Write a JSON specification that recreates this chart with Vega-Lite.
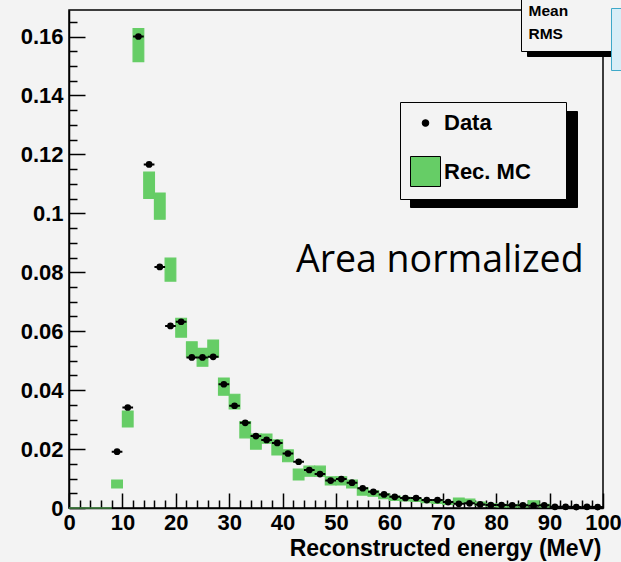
{
  "$schema": "https://vega.github.io/schema/vega-lite/v6.json",
  "width": 534,
  "height": 498,
  "autosize": {"type": "none"},
  "padding": {"left": 69, "top": 10, "right": 18, "bottom": 54},
  "background": "#f3f3f3",
  "config": {
    "view": {"stroke": "black", "strokeWidth": 1.5, "fill": "#f3f3f3"},
    "font": "Liberation Sans",
    "axis": {
      "grid": false, "domainColor": "black", "tickColor": "black", "labelColor": "black", "titleColor": "black",
      "labelFont": "Liberation Sans", "labelFontWeight": "bold", "labelFontSize": 22,
      "titleFont": "Liberation Sans", "titleFontWeight": "bold", "titleFontSize": 23,
      "tickWidth": 1.5, "domainWidth": 1.5, "labelFlush": false, "labelOverlap": false, "labelBound": false, "zindex": 1
    }
  },
  "data": {"values": [
    {"e": 1, "lo": 0, "hi": 2, "data": null, "mc_lo": 0, "mc_hi": 0},
    {"e": 3, "lo": 2, "hi": 4, "data": null, "mc_lo": 0, "mc_hi": 0},
    {"e": 5, "lo": 4, "hi": 6, "data": null, "mc_lo": 0, "mc_hi": 0},
    {"e": 7, "lo": 6, "hi": 8, "data": null, "mc_lo": 0, "mc_hi": 0},
    {"e": 9, "lo": 8, "hi": 10, "data": 0.0191, "mc_lo": 0.0068, "mc_hi": 0.0095},
    {"e": 11, "lo": 10, "hi": 12, "data": 0.0341, "mc_lo": 0.0275, "mc_hi": 0.0329},
    {"e": 13, "lo": 12, "hi": 14, "data": 0.1600, "mc_lo": 0.1515, "mc_hi": 0.1627},
    {"e": 15, "lo": 14, "hi": 16, "data": 0.1166, "mc_lo": 0.1051, "mc_hi": 0.1140},
    {"e": 17, "lo": 16, "hi": 18, "data": 0.0818, "mc_lo": 0.0980, "mc_hi": 0.1069},
    {"e": 19, "lo": 18, "hi": 20, "data": 0.0618, "mc_lo": 0.0770, "mc_hi": 0.0848},
    {"e": 21, "lo": 20, "hi": 22, "data": 0.0632, "mc_lo": 0.0580, "mc_hi": 0.0644},
    {"e": 23, "lo": 22, "hi": 24, "data": 0.0511, "mc_lo": 0.0513, "mc_hi": 0.0564},
    {"e": 25, "lo": 24, "hi": 26, "data": 0.0511, "mc_lo": 0.0481, "mc_hi": 0.0542},
    {"e": 27, "lo": 26, "hi": 28, "data": 0.0513, "mc_lo": 0.0512, "mc_hi": 0.0570},
    {"e": 29, "lo": 28, "hi": 30, "data": 0.0420, "mc_lo": 0.0383, "mc_hi": 0.0441},
    {"e": 31, "lo": 30, "hi": 32, "data": 0.0347, "mc_lo": 0.0336, "mc_hi": 0.0386},
    {"e": 33, "lo": 32, "hi": 34, "data": 0.0289, "mc_lo": 0.0238, "mc_hi": 0.0293},
    {"e": 35, "lo": 34, "hi": 36, "data": 0.0244, "mc_lo": 0.0200, "mc_hi": 0.0251},
    {"e": 37, "lo": 36, "hi": 38, "data": 0.0231, "mc_lo": 0.0220, "mc_hi": 0.0251},
    {"e": 39, "lo": 38, "hi": 40, "data": 0.0221, "mc_lo": 0.0180, "mc_hi": 0.0231},
    {"e": 41, "lo": 40, "hi": 42, "data": 0.0185, "mc_lo": 0.0157, "mc_hi": 0.0197},
    {"e": 43, "lo": 42, "hi": 44, "data": 0.0157, "mc_lo": 0.0095, "mc_hi": 0.0132},
    {"e": 45, "lo": 44, "hi": 46, "data": 0.0129, "mc_lo": 0.0108, "mc_hi": 0.0142},
    {"e": 47, "lo": 46, "hi": 48, "data": 0.0115, "mc_lo": 0.0108, "mc_hi": 0.0142},
    {"e": 49, "lo": 48, "hi": 50, "data": 0.0093, "mc_lo": 0.0078, "mc_hi": 0.0106},
    {"e": 51, "lo": 50, "hi": 52, "data": 0.0098, "mc_lo": 0.0078, "mc_hi": 0.0106},
    {"e": 53, "lo": 52, "hi": 54, "data": 0.0086, "mc_lo": 0.0068, "mc_hi": 0.0095},
    {"e": 55, "lo": 54, "hi": 56, "data": 0.0067, "mc_lo": 0.0044, "mc_hi": 0.0068},
    {"e": 57, "lo": 56, "hi": 58, "data": 0.0055, "mc_lo": 0.0040, "mc_hi": 0.0058},
    {"e": 59, "lo": 58, "hi": 60, "data": 0.0046, "mc_lo": 0.0032, "mc_hi": 0.0048},
    {"e": 61, "lo": 60, "hi": 62, "data": 0.0038, "mc_lo": 0.0026, "mc_hi": 0.0040},
    {"e": 63, "lo": 62, "hi": 64, "data": 0.0034, "mc_lo": 0.0024, "mc_hi": 0.0036},
    {"e": 65, "lo": 64, "hi": 66, "data": 0.0034, "mc_lo": 0.0022, "mc_hi": 0.0032},
    {"e": 67, "lo": 66, "hi": 68, "data": 0.0027, "mc_lo": 0.0018, "mc_hi": 0.0028},
    {"e": 69, "lo": 68, "hi": 70, "data": 0.0027, "mc_lo": 0.0016, "mc_hi": 0.0026},
    {"e": 71, "lo": 70, "hi": 72, "data": 0.0020, "mc_lo": 0.0012, "mc_hi": 0.0022},
    {"e": 73, "lo": 72, "hi": 74, "data": 0.0014, "mc_lo": 0.0020, "mc_hi": 0.0034},
    {"e": 75, "lo": 74, "hi": 76, "data": 0.0016, "mc_lo": 0.0018, "mc_hi": 0.0030},
    {"e": 77, "lo": 76, "hi": 78, "data": 0.0012, "mc_lo": 0.0010, "mc_hi": 0.0020},
    {"e": 79, "lo": 78, "hi": 80, "data": 0.0010, "mc_lo": 0.0006, "mc_hi": 0.0014},
    {"e": 81, "lo": 80, "hi": 82, "data": 0.0010, "mc_lo": 0.0004, "mc_hi": 0.0012},
    {"e": 83, "lo": 82, "hi": 84, "data": 0.0009, "mc_lo": 0.0004, "mc_hi": 0.0010},
    {"e": 85, "lo": 84, "hi": 86, "data": 0.0009, "mc_lo": 0.0004, "mc_hi": 0.0012},
    {"e": 87, "lo": 86, "hi": 88, "data": 0.0008, "mc_lo": 0.0012, "mc_hi": 0.0024},
    {"e": 89, "lo": 88, "hi": 90, "data": 0.0009, "mc_lo": 0.0004, "mc_hi": 0.0012},
    {"e": 91, "lo": 90, "hi": 92, "data": 0.0004, "mc_lo": null, "mc_hi": null},
    {"e": 93, "lo": 92, "hi": 94, "data": 0.0004, "mc_lo": null, "mc_hi": null},
    {"e": 95, "lo": 94, "hi": 96, "data": 0.0003, "mc_lo": null, "mc_hi": null},
    {"e": 97, "lo": 96, "hi": 98, "data": 0.0004, "mc_lo": null, "mc_hi": null},
    {"e": 99, "lo": 98, "hi": 100, "data": 0.0003, "mc_lo": null, "mc_hi": null}
  ]},
  "resolve": {"axis": {"x": "independent", "y": "independent"}},
  "layer": [
    {
      "mark": {"type": "rect", "strokeWidth": 1.2},
      "encoding": {
        "x": {"field": "lo", "type": "quantitative", "scale": {"domain": [0, 100], "nice": false, "zero": false},
          "axis": {"orient": "bottom", "values": [0, 10, 20, 30, 40, 50, 60, 70, 80, 90, 100], "ticks": false, "labelPadding": 4, "format": "d",
            "grid": true, "gridColor": "black", "gridWidth": 1.5, "gridOpacity": 1, "gridDash": [0, 483, 15, 3000],
            "title": "Reconstructed energy (MeV)", "titleX": 532, "titleY": 47, "titleAlign": "right", "titleBaseline": "alphabetic", "titleAnchor": null}},
        "x2": {"field": "hi"},
        "y": {"field": "mc_lo", "type": "quantitative", "scale": {"domain": [0, 0.169], "nice": false},
          "axis": {"orient": "left", "values": [0, 0.02, 0.04, 0.06, 0.08, 0.1, 0.12, 0.14, 0.16], "ticks": false, "labelPadding": 6, "format": "~g", "title": null,
            "grid": true, "gridColor": "black", "gridWidth": 1.5, "gridOpacity": 1, "gridDash": [16, 3000]}},
        "y2": {"field": "mc_hi"},
        "color": {"datum": "Rec. MC", "scale": {"domain": ["Data", "Rec. MC"], "range": ["black", "#66cd66"]},
          "legend": {"orient": "none", "legendX": 331, "legendY": 92, "title": null, "fillColor": "#f3f3f3", "strokeColor": "black", "padding": 10,
            "labelFontSize": 22, "labelFont": "Liberation Sans", "labelFontWeight": "bold", "labelColor": "black", "labelOffset": 3, "rowPadding": 20, "labelLimit": 300,
            "symbolStrokeColor": "black", "symbolStrokeWidth": 1, "symbolOpacity": 1, "labelExpr": "datum.label + '\u00a0\u00a0\u00a0\u00a0\u200b'", "zindex": 3}},
        "stroke": {"datum": "b", "scale": {"domain": ["b"], "range": ["#66cd66"]},
          "legend": {"orient": "none", "legendX": 542, "legendY": -2, "title": null, "fillColor": "#d8eef7", "strokeColor": "#3fa9c9", "padding": 23, "labelLimit": 300,
            "symbolSize": 0, "symbolOpacity": 0, "symbolFillColor": "transparent", "symbolStrokeColor": "transparent", "labelOffset": 0, "labelFontSize": 16,
            "labelExpr": "'\u00a0\u00a0\u00a0\u00a0\u200b'", "zindex": 5}}
      }
    },
    {
      "mark": {"type": "rule", "color": "black", "strokeWidth": 2},
      "encoding": {
        "x": {"field": "lo", "type": "quantitative",
          "axis": {"orient": "bottom", "values": [2, 4, 6, 8, 12, 14, 16, 18, 22, 24, 26, 28, 32, 34, 36, 38, 42, 44, 46, 48, 52, 54, 56, 58, 62, 64, 66, 68, 72, 74, 76, 78, 82, 84, 86, 88, 92, 94, 96, 98], "ticks": false, "labels": false, "domain": false, "title": null,
            "grid": true, "gridColor": "black", "gridWidth": 1.5, "gridOpacity": 1, "gridDash": [0, 490, 8, 3000]}},
        "x2": {"field": "hi"},
        "y": {"field": "data", "type": "quantitative",
          "axis": {"orient": "left", "values": [0.005, 0.01, 0.015, 0.025, 0.03, 0.035, 0.045, 0.05, 0.055, 0.065, 0.07, 0.075, 0.085, 0.09, 0.095, 0.105, 0.11, 0.115, 0.125, 0.13, 0.135, 0.145, 0.15, 0.155, 0.165], "ticks": false, "labels": false, "domain": false, "title": null,
            "grid": true, "gridColor": "black", "gridWidth": 1.5, "gridOpacity": 1, "gridDash": [8, 3000]}},
        "strokeDash": {"datum": "s1", "scale": {"domain": ["s1", "s2"], "range": [[1, 0], [1, 0]]},
          "legend": {"orient": "none", "legendX": 341, "legendY": 101, "title": null, "fillColor": "black", "strokeColor": "black", "padding": 10,
            "labelFontSize": 22, "labelFont": "Liberation Sans", "labelFontWeight": "bold", "labelColor": "black", "labelOffset": 3, "rowPadding": 6, "labelLimit": 300,
            "symbolSize": 900, "symbolType": "square", "symbolFillColor": "black", "symbolStrokeColor": "black", "symbolOpacity": 1,
            "labelExpr": "'Rec. MC' + '\u00a0\u00a0\u00a0\u00a0\u200b'", "zindex": 2}}
      }
    },
    {
      "mark": {"type": "point", "filled": true, "opacity": 1},
      "encoding": {
        "x": {"field": "e", "type": "quantitative", "axis": null},
        "y": {"field": "data", "type": "quantitative", "axis": null},
        "color": {"datum": "Data"},
        "shape": {"datum": "Data", "scale": {"domain": ["Data", "Rec. MC"], "range": ["circle", "square"]},
          "legend": {"orient": "none", "legendX": 331, "legendY": 92, "title": null, "fillColor": "#f3f3f3", "strokeColor": "black", "padding": 10,
            "labelFontSize": 22, "labelFont": "Liberation Sans", "labelFontWeight": "bold", "labelColor": "black", "labelOffset": 3, "rowPadding": 20, "labelLimit": 300,
            "symbolStrokeColor": "black", "symbolStrokeWidth": 1, "symbolOpacity": 1, "labelExpr": "datum.label + '\u00a0\u00a0\u00a0\u00a0\u200b'", "zindex": 3}},
        "size": {"datum": "Data", "scale": {"domain": ["Data", "Rec. MC"], "range": [45, 900]},
          "legend": {"orient": "none", "legendX": 331, "legendY": 92, "title": null, "fillColor": "#f3f3f3", "strokeColor": "black", "padding": 10,
            "labelFontSize": 22, "labelFont": "Liberation Sans", "labelFontWeight": "bold", "labelColor": "black", "labelOffset": 3, "rowPadding": 20, "labelLimit": 300,
            "symbolStrokeColor": "black", "symbolStrokeWidth": 1, "symbolOpacity": 1, "labelExpr": "datum.label + '\u00a0\u00a0\u00a0\u00a0\u200b'", "zindex": 3}}
      }
    },
    {
      "data": {"values": [{"label": "Area normalized"}]},
      "mark": {"type": "text", "font": "Open Sans", "fontSize": 37.5, "align": "left", "baseline": "alphabetic", "color": "black"},
      "encoding": {
        "x": {"datum": 42.5, "type": "quantitative", "axis": null},
        "y": {"datum": 0.0801, "type": "quantitative", "axis": null},
        "text": {"field": "label"},
        "opacity": {"datum": "Mean", "scale": {"domain": ["Mean", "RMS"], "range": [1, 1]},
          "legend": {"orient": "none", "legendX": 452, "legendY": -15, "fillColor": "#f3f3f3", "strokeColor": "black", "padding": 8, "labelLimit": 300,
            "title": "\u200b\u00a0\u00a0\u00a0\u00a0\u00a0\u00a0\u00a0\u00a0\u00a0\u00a0\u00a0\u00a0\u00a0\u00a0\u200b", "titleOrient": "right", "titleFontSize": 15.5, "titleLimit": 300, "titlePadding": 0,
            "symbolSize": 0, "symbolOpacity": 0, "symbolFillColor": "transparent", "symbolStrokeColor": "transparent", "labelFontSize": 15.5, "labelFont": "Liberation Sans", "labelFontWeight": "bold", "labelColor": "black",
            "labelOffset": -16, "rowPadding": 6, "labelExpr": "datum.label + '\u00a0\u00a0\u00a0\u00a0\u00a0\u00a0\u00a0\u00a0\u00a0\u00a0\u00a0\u00a0\u00a0\u00a0\u200b'", "zindex": 4}},
        "strokeWidth": {"datum": "m", "scale": {"domain": ["m", "r"], "range": [1, 1]},
          "legend": {"orient": "none", "legendX": 458, "legendY": -10, "fillColor": "black", "strokeColor": "black", "padding": 8, "labelLimit": 300,
            "title": "\u200b\u00a0\u00a0\u00a0\u00a0\u00a0\u00a0\u00a0\u00a0\u00a0\u00a0\u00a0\u00a0\u00a0\u00a0\u200b", "titleOrient": "right", "titleFontSize": 15.5, "titleLimit": 300, "titlePadding": 0,
            "symbolSize": 0, "symbolOpacity": 0, "symbolFillColor": "transparent", "symbolStrokeColor": "transparent", "labelFontSize": 15.5, "labelFont": "Liberation Sans", "labelFontWeight": "bold", "labelColor": "black",
            "labelOffset": -16, "rowPadding": 6, "labelExpr": "'Mean' + '\u00a0\u00a0\u00a0\u00a0\u00a0\u00a0\u00a0\u00a0\u00a0\u00a0\u00a0\u00a0\u00a0\u00a0\u200b'", "zindex": 1}}
      }
    }
  ]
}
